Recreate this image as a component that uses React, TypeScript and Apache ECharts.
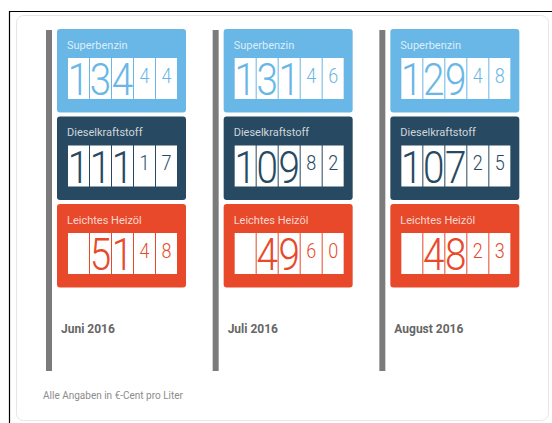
import React, { useEffect, useRef } from "react";
import * as echarts from "echarts";

const months = ["Juni 2016", "Juli 2016", "August 2016"];
const fuels = ["Superbenzin", "Dieselkraftstoff", "Leichtes Heizöl"];
const superbenzin = [134.44, 131.46, 129.48];
const diesel = [111.17, 109.82, 107.25];
const heizoel = [51.48, 49.6, 48.23];
const fuelColors = ["#69b7e6", "#274a62", "#e8492a"];
const footnote = "Alle Angaben in €-Cent pro Liter";

const FONT = "Roboto, 'DejaVu Sans', sans-serif";

function digitsOf(v: number): string[] {
  const [ip, dp] = v.toFixed(2).split(".");
  const intPart = ip.padStart(3, " ");
  return (intPart + dp).split("");
}

export default function App() {
  const ref = useRef<HTMLDivElement>(null);
  useEffect(() => {
    if (!ref.current) return;
    const chart = echarts.init(ref.current, null, { renderer: "svg" });
    const seriesVals = [superbenzin, diesel, heizoel];
    const cellData: any[] = [];
    seriesVals.forEach((arr, f) => arr.forEach((v, m) => cellData.push([m, f, v])));
    const monthData = months.map((_, m) => [m, 3]);

    const cellRender = (params: any, api: any) => {
      const m = api.value(0);
      const f = api.value(1);
      const v = api.value(2);
      const [cx, cy] = api.coord([m, f]);
      const [bw, bh] = api.size([1, 1]);
      const bandLeft = cx - bw / 2;
      const rowTop = cy - bh / 2;
      const px = bandLeft + 11;
      const color = fuelColors[f];
      const children: any[] = [
        { type: "rect", shape: { x: px, y: rowTop, width: 129, height: 83.5, r: 3 }, style: { fill: color } },
        {
          type: "text",
          style: {
            text: fuels[f], x: px + 10, y: rowTop + 16, fill: "rgba(255,255,255,0.78)",
            fontSize: 11, fontFamily: FONT, align: "left", verticalAlign: "middle",
          },
        },
      ];
      const ds = digitsOf(v);
      ds.forEach((d, i) => {
        const bx = px + 11 + i * 22;
        const by = rowTop + 29;
        children.push({ type: "rect", shape: { x: bx, y: by, width: 21, height: 41 }, style: { fill: "#ffffff" } });
        if (d.trim() !== "") {
          const big = i < 3;
          children.push({
            type: "text",
            x: bx + 10.5,
            y: by + (big ? 21.5 : 18),
            scaleX: big ? 0.86 : 0.9,
            style: {
              text: d, x: 0, y: 0, fill: color,
              fontSize: big ? 45 : 20, fontWeight: 300, fontFamily: FONT,
              align: "center", verticalAlign: "middle",
            },
          });
        }
      });
      return { type: "group", children };
    };

    const monthRender = (params: any, api: any) => {
      const m = api.value(0);
      const r = api.value(1);
      const [cx, cy] = api.coord([m, r]);
      const [bw, bh] = api.size([1, 1]);
      const bandLeft = cx - bw / 2;
      const rowTop = cy - bh / 2;
      const top = rowTop - 3 * bh + 1;
      const bottom = rowTop + 79.5;
      return {
        type: "group",
        children: [
          { type: "rect", shape: { x: bandLeft, y: top, width: 6, height: bottom - top }, style: { fill: "#7b7b7b" } },
          {
            type: "text",
            style: {
              text: months[m], x: bandLeft + 15, y: cy - 6, fill: "#666666",
              fontSize: 12, fontWeight: "bold", fontFamily: FONT, align: "left", verticalAlign: "middle",
            },
          },
        ],
      };
    };

    chart.setOption({
      animation: false,
      backgroundColor: "#ffffff",
      grid: { left: 46, top: 29, width: 500, height: 350 },
      xAxis: { type: "category", data: months, show: false },
      yAxis: { type: "category", data: [...fuels, ""], inverse: true, show: false },
      graphic: [
        { type: "line", shape: { x1: 9, y1: 11.5, x2: 552, y2: 11.5 }, style: { stroke: "#000", lineWidth: 1.2 }, z: -1 },
        { type: "line", shape: { x1: 9.5, y1: 11, x2: 9.5, y2: 423 }, style: { stroke: "#000", lineWidth: 1.2 }, z: -1 },
        {
          type: "rect", shape: { x: 16.5, y: 15.5, width: 532, height: 405, r: 7 },
          style: { fill: "#ffffff", stroke: "#e6e6e6", lineWidth: 1 }, z: -1,
        },
        {
          type: "text", x: 43, y: 395,
          style: { text: footnote, fill: "#8c8c8c", fontSize: 10, fontFamily: FONT, align: "left", verticalAlign: "middle" },
        },
      ],
      series: [
        { type: "custom", coordinateSystem: "cartesian2d", data: monthData, renderItem: monthRender, clip: false },
        { type: "custom", coordinateSystem: "cartesian2d", data: cellData, renderItem: cellRender, clip: false },
      ],
    });
    return () => chart.dispose();
  }, []);
  return <div ref={ref} style={{ position: "absolute", left: 0, top: 0, width: 552, height: 423 }} />;
}
